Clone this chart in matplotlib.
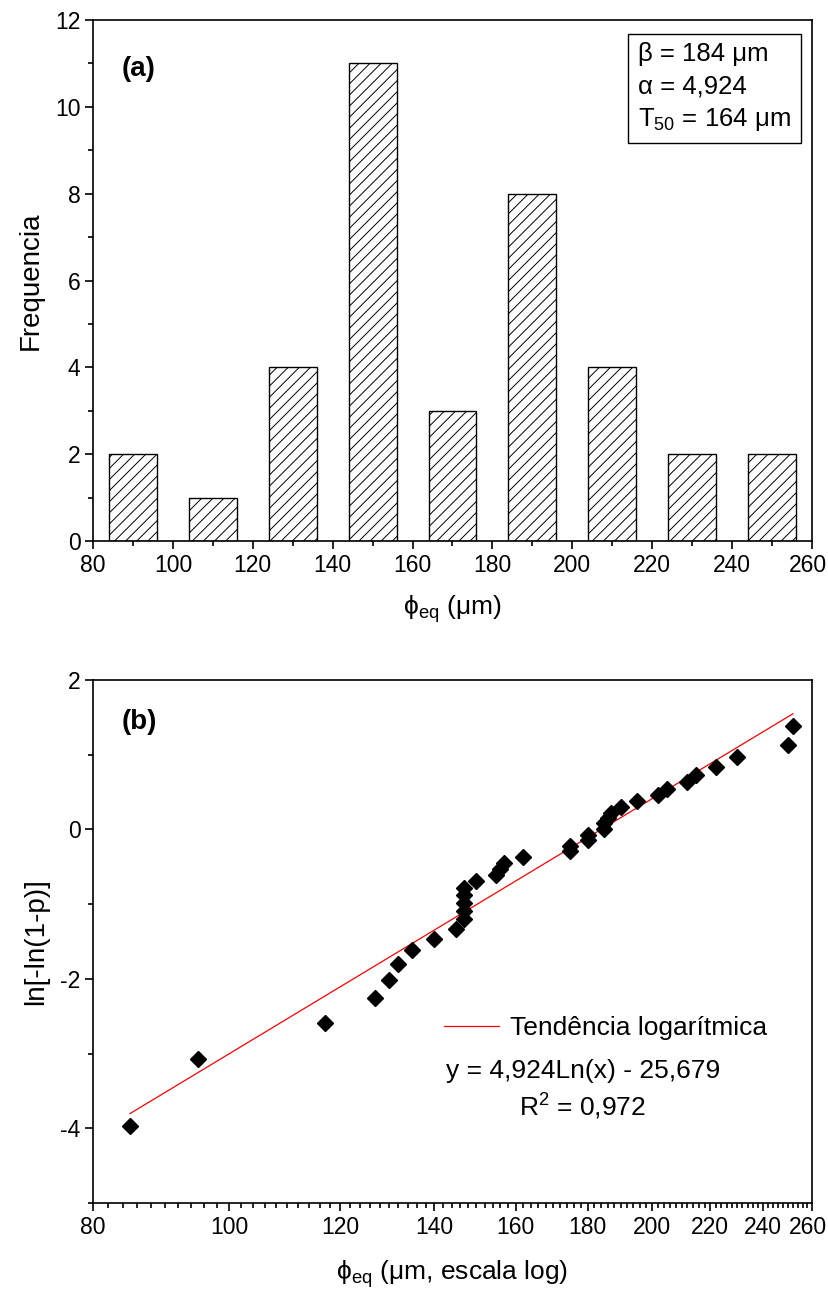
import numpy as np
import matplotlib
matplotlib.use('Agg')
import matplotlib.pyplot as plt
import matplotlib.transforms as mtransforms
from matplotlib.ticker import FixedLocator, NullFormatter, FuncFormatter
from matplotlib.lines import Line2D

plt.rcParams['font.family'] = ['Liberation Sans', 'DejaVu Sans']
plt.rcParams['mathtext.fontset'] = 'custom'
plt.rcParams['mathtext.rm'] = 'Liberation Sans'
plt.rcParams['mathtext.it'] = 'Liberation Sans:italic'
plt.rcParams['hatch.linewidth'] = 0.7
plt.rcParams['axes.unicode_minus'] = False

# ---------------- data ----------------
bin_centers = [90, 110, 130, 150, 170, 190, 210, 230, 250]
frequencies = [2, 1, 4, 11, 3, 8, 4, 2, 2]

diameters = [85, 95, 117, 127, 130, 132, 135, 140, 145, 147, 147, 147, 147, 147,
             150, 155, 156, 157, 162, 175, 175, 180, 180, 185, 185, 186, 187,
             190, 195, 202, 205, 212, 215, 222, 230, 250, 252]
weibull_y = [-3.97, -3.07, -2.59, -2.26, -2.01, -1.80, -1.62, -1.47, -1.33,
             -1.20, -1.09, -0.98, -0.88, -0.79, -0.69, -0.61, -0.53, -0.45,
             -0.37, -0.29, -0.22, -0.14, -0.07, 0.00, 0.08, 0.15, 0.22, 0.30,
             0.38, 0.46, 0.54, 0.63, 0.73, 0.84, 0.97, 1.13, 1.38]

fit_slope = 4.924
fit_intercept = -25.679

x_major = list(range(80, 261, 20))
x_minor_top = list(range(90, 251, 20))
x_minor_log = [v for v in range(80, 261, 2) if v % 20 != 0]

# ---------------- figure ----------------
fig = plt.figure(figsize=(8.29, 12.93), dpi=100)
L, R = 93 / 829, 812 / 829
ax1 = fig.add_axes([L, 1 - 541 / 1293, R - L, (541 - 20) / 1293])
ax2 = fig.add_axes([L, 1 - 1203 / 1293, R - L, (1203 - 680) / 1293])

FS = 16.5    # tick labels
LFS = 19     # labels / annotations

def style(ax):
    for s in ax.spines.values():
        s.set_linewidth(1.2)
    ax.tick_params(which='both', direction='out', top=False, right=False,
                   labelsize=FS, width=1.2)
    ax.tick_params(which='major', length=6, pad=3)
    ax.tick_params(which='minor', length=3.5)

# ---- panel (a) ----
ax1.bar(bin_centers, frequencies, width=12, color='white', edgecolor='black',
        hatch='///', linewidth=1.0, zorder=2)
ax1.set_xlim(80, 260)
ax1.set_ylim(0, 12)
ax1.xaxis.set_major_locator(FixedLocator(x_major))
ax1.xaxis.set_minor_locator(FixedLocator(x_minor_top))
ax1.yaxis.set_major_locator(FixedLocator(range(0, 13, 2)))
ax1.yaxis.set_minor_locator(FixedLocator(range(1, 12, 2)))
style(ax1)
ax1.set_ylabel('Frequencia', fontsize=20, labelpad=8)
ax1.set_xlabel('ϕ$_{\\mathregular{eq}}$ (μm)', fontsize=LFS, labelpad=12)
ax1.text(0.04, 0.905, '(a)', transform=ax1.transAxes, fontsize=20,
         fontweight='bold', ha='left', va='center')
ax1.text(0.758, 0.957, 'β = 184 μm\nα = 4,924\nT$_{\\mathregular{50}}$ = 164 μm',
         transform=ax1.transAxes, fontsize=18.5, ha='left', va='top',
         linespacing=1.4,
         bbox=dict(boxstyle='square,pad=0.4', fc='white', ec='black', lw=1.0))

# ---- panel (b) ----
ax2.set_xscale('log')
ax2.plot(diameters, weibull_y, linestyle='none', marker='D', markersize=8,
         color='black', zorder=3)
xfit = np.array([min(diameters), max(diameters)], dtype=float)
ax2.plot(xfit, fit_slope * np.log(xfit) + fit_intercept, color='red', lw=0.9,
         zorder=2)
ax2.set_xlim(80, 260)
ax2.set_ylim(-5, 2)
ax2.xaxis.set_major_locator(FixedLocator(x_major))
ax2.xaxis.set_minor_locator(FixedLocator(x_minor_log))
ax2.xaxis.set_major_formatter(FuncFormatter(lambda v, p: f'{v:.0f}'))
ax2.xaxis.set_minor_formatter(NullFormatter())
ax2.yaxis.set_major_locator(FixedLocator([-4, -2, 0, 2]))
ax2.yaxis.set_minor_locator(FixedLocator([-5, -3, -1, 1]))
style(ax2)
ax2.set_ylabel('ln[-ln(1-p)]', fontsize=20, labelpad=8)
ax2.set_xlabel('ϕ$_{\\mathregular{eq}}$ (μm, escala log)', fontsize=LFS, labelpad=14)
ax2.text(0.04, 0.92, '(b)', transform=ax2.transAxes, fontsize=20,
         fontweight='bold', ha='left', va='center')

handle = Line2D([], [], color='red', lw=0.9)
ax2.legend([handle], ['Tendência logarítmica'], loc='center left',
           bbox_to_anchor=(0.488, 0.335), frameon=False, fontsize=LFS,
           handlelength=2.1, handletextpad=0.4, borderaxespad=0, borderpad=0)
ax2.text(0.681, 0.252, 'y = 4,924Ln(x) - 25,679', transform=ax2.transAxes,
         fontsize=LFS, ha='center', va='center')
ax2.text(0.681, 0.184, 'R$^{\\mathregular{2}}$ = 0,972', transform=ax2.transAxes,
         fontsize=LFS, ha='center', va='center')

# keep the last x tick label ("260") inside the canvas
fig.canvas.draw()
shift = mtransforms.ScaledTranslation(-4 / 100, 0, fig.dpi_scale_trans)
for ax in (ax1, ax2):
    for tick in ax.xaxis.get_major_ticks():
        if abs(tick.get_loc() - 260) < 1e-6:
            tick.label1.set_transform(tick.label1.get_transform() + shift)

fig.savefig('out.png', dpi=100)
